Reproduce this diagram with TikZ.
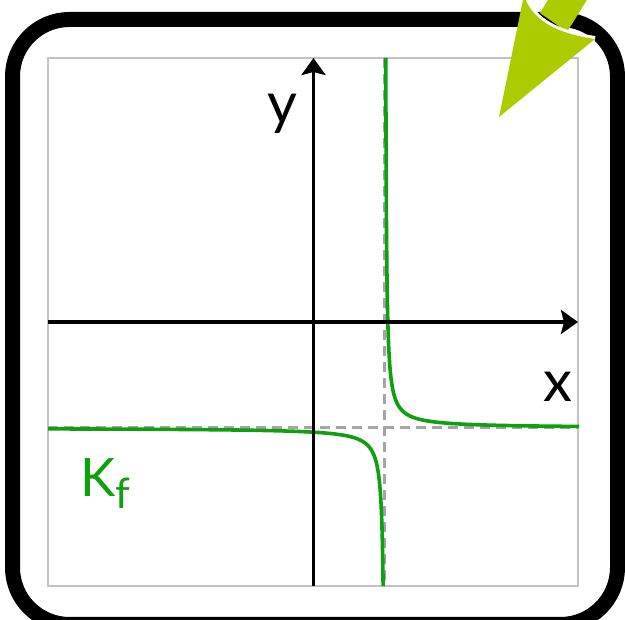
\documentclass[tikz,border=0pt]{standalone}
\usepackage{fontspec}
\setmainfont{Lato}
\usetikzlibrary{arrows.meta}
\definecolor{kgreen}{RGB}{14,160,14}
\definecolor{lime}{RGB}{172,204,0}
\definecolor{asymgray}{RGB}{165,165,165}
\definecolor{boxgray}{RGB}{195,195,195}

\begin{document}
\begin{tikzpicture}[x=1pt,y=-1pt,
        axis/.style={line width=3.6pt,-{Stealth[length=17pt,width=24pt,inset=3pt]}},
        asym/.style={asymgray,line width=3pt,dash pattern=on 10pt off 6pt},
        curve/.style={kgreen,line width=3.6pt},
        lbl/.style={font=\fontsize{58}{60}\selectfont,inner sep=0pt}]
        \useasboundingbox (0,0) rectangle (625,620);
        \clip (0,0) rectangle (625,620);

        \coordinate (P1) at (48,58);
        \coordinate (P2) at (578,586);
        \coordinate (Xl) at (48,322);
        \coordinate (Xr) at (578,322);
        \coordinate (Yb) at (313.5,586);
        \coordinate (Yt) at (313.5,58);
        \coordinate (Vt) at (384.5,58);
        \coordinate (Vb) at (384.5,586);
        \coordinate (Hl) at (48,428);
        \coordinate (Hr) at (578,428);

        % plot area and asymptotes
        \draw[boxgray,line width=1.6pt] (P1) rectangle (P2);
        \draw[asym] (Vt) -- (Vb);
        \draw[asym] (Hl) -- (Hr);

        % the two branches
        \draw[curve,domain=-0.21:5.27,samples=140,smooth,variable=\t]
            plot ({385+exp(\t)},{428-300/exp(\t)});
        \draw[curve,domain=0.64:5.82,samples=140,smooth,variable=\t]
            plot ({385-exp(\t)},{428+300/exp(\t)});

        \draw[axis] (Xl) -- (Xr);
        \draw[axis] (Yb) -- (Yt);

        \node[lbl,anchor=base] (ylab) at (282,124) {y};
        \node[lbl,anchor=base] (xlab) at (558,402) {x};
        \node[inner sep=0pt,kgreen,anchor=base west,font=\fontsize{53}{56}\selectfont] (kf) at (80,497)
            {K\raisebox{-12pt}{\fontsize{42}{44}\selectfont f}};

        % frame
        \draw[line width=15pt,rounded corners=57pt] (12.5,19.5) rectangle (617.5,624.5);

        % arrow in the corner
        \fill[lime] (551,-5) -- (540,13) -- (567,32) -- (590,-5) -- cycle;
        \draw[white,line width=6pt] (524,-5) .. controls (532,22) and (560,34) .. (595,39);
        \fill[lime] (499,117) -- (524,-5) .. controls (532,22) and (560,34) .. (595,39) -- cycle;
\end{tikzpicture}
\end{document}
